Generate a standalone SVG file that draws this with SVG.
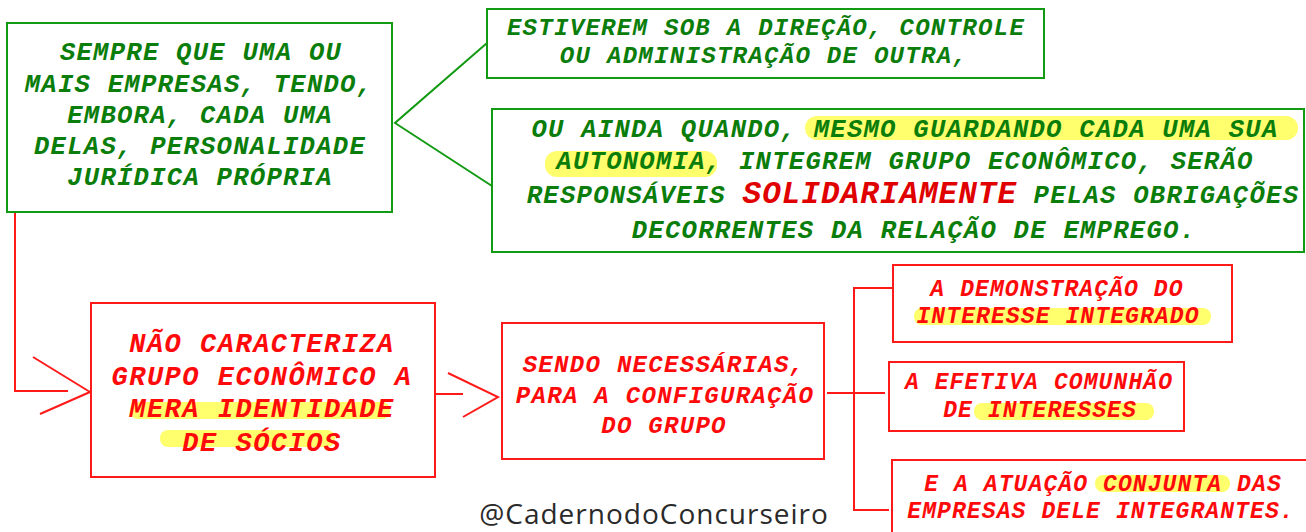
<svg xmlns="http://www.w3.org/2000/svg" width="1306" height="532" viewBox="0 0 1306 532">
<style>
.gbox{fill:#fff;stroke:#139a13;stroke-width:2}
.rbox{fill:#fff;stroke:#ff1a1a;stroke-width:2}
.t{font-family:"Liberation Mono","Courier New",monospace;font-weight:bold;font-style:italic;text-anchor:middle}
.g{fill:#0a7d0a}
.r{fill:#ff0a0a}
.s24{font-size:25.5px;letter-spacing:1.3px}
.s23{font-size:24px;letter-spacing:1.3px}
.s26{font-size:27px;letter-spacing:1.5px}
.s22{font-size:24px;letter-spacing:1.3px}
.s21{font-size:23px;letter-spacing:1.1px}
.big{font-size:31px;letter-spacing:1px;fill:#e00000}
.hl{fill:#ffff3c;opacity:0.75}
.gc{fill:none;stroke:#139a13;stroke-width:2}
.rc{fill:none;stroke:#ff1a1a;stroke-width:2}
.wm{font-family:"Open Sans","Noto Sans",sans-serif;font-size:28px;letter-spacing:1px;fill:#2a2a2a}
</style>
<rect width="1306" height="532" fill="#fff"/>
<g id="connectors">
<polyline class="gc" points="487,43 395,123 492,186"/>
<polyline class="rc" points="15,213 15,391 68,391"/>
<polyline class="rc" points="33,357 90,392 40,414"/>
<line class="rc" x1="435" y1="394" x2="463" y2="394"/>
<polyline class="rc" points="448,373 498,397 463,417"/>
<line class="rc" x1="827" y1="393" x2="885" y2="393"/>
<polyline class="rc" points="893,288 854,288 854,510 889,510"/>
</g>
<g id="n1">
<rect class="gbox" x="7" y="23" width="385" height="189"/>
<text class="t g s24" x="201" y="60">SEMPRE QUE UMA OU</text>
<text class="t g s24" x="199" y="92">MAIS EMPRESAS, TENDO,</text>
<text class="t g s24" x="200" y="123">EMBORA, CADA UMA</text>
<text class="t g s24" x="200" y="154">DELAS, PERSONALIDADE</text>
<text class="t g s24" x="200" y="185">JURÍDICA PRÓPRIA</text>
</g>
<g id="n2">
<rect class="gbox" x="487" y="9" width="557" height="69"/>
<text class="t g s23" x="766" y="35">ESTIVEREM SOB A DIREÇÃO, CONTROLE</text>
<text class="t g s23" x="764" y="63">OU ADMINISTRAÇÃO DE OUTRA,</text>
</g>
<g id="n3">
<rect class="gbox" x="492" y="109" width="812" height="143"/>
<rect class="hl" x="805" y="116" width="493" height="24" rx="12"/>
<rect class="hl" x="545" y="151" width="172" height="26" rx="12"/>
<text class="t g s24" x="905" y="137">OU AINDA QUANDO, MESMO GUARDANDO CADA UMA SUA</text>
<text class="t g s24" x="905" y="169">AUTONOMIA, INTEGREM GRUPO ECONÔMICO, SERÃO</text>
<text class="t g s24" x="913" y="203">RESPONSÁVEIS <tspan class="big">SOLIDARIAMENTE</tspan> PELAS OBRIGAÇÕES</text>
<text class="t g s24" x="914" y="238">DECORRENTES DA RELAÇÃO DE EMPREGO.</text>
</g>
<g id="n4">
<rect class="rbox" x="91" y="303" width="344" height="174"/>
<rect class="hl" x="130" y="402" width="260" height="17" rx="8"/>
<rect class="hl" x="160" y="430" width="175" height="17" rx="8"/>
<text class="t r s26" x="262" y="352">NÃO CARACTERIZA</text>
<text class="t r s26" x="262" y="385">GRUPO ECONÔMICO A</text>
<text class="t r s26" x="262" y="417">MERA IDENTIDADE</text>
<text class="t r s26" x="262" y="451">DE SÓCIOS</text>
</g>
<g id="n5">
<rect class="rbox" x="502" y="323" width="322" height="136"/>
<text class="t r s22" x="664" y="372">SENDO NECESSÁRIAS,</text>
<text class="t r s22" x="665" y="403">PARA A CONFIGURAÇÃO</text>
<text class="t r s22" x="664" y="433">DO GRUPO</text>
</g>
<g id="n6">
<rect class="rbox" x="893" y="265" width="339" height="77"/>
<rect class="hl" x="914" y="308" width="297" height="17" rx="8"/>
<text class="t r s21" x="1057" y="296">A DEMONSTRAÇÃO DO</text>
<text class="t r s21" x="1058" y="323">INTERESSE INTEGRADO</text>
</g>
<g id="n7">
<rect class="rbox" x="889" y="362" width="295" height="69"/>
<rect class="hl" x="974" y="403" width="180" height="17" rx="8"/>
<text class="t r s21" x="1039" y="389">A EFETIVA COMUNHÃO</text>
<text class="t r s21" x="1040" y="417">DE INTERESSES</text>
</g>
<g id="n8">
<rect class="rbox" x="892" y="460" width="420" height="90"/>
<rect class="hl" x="1095" y="475" width="135" height="17" rx="8"/>
<text class="t r s21" x="1103" y="491">E A ATUAÇÃO CONJUNTA DAS</text>
<text class="t r s21" x="1101" y="518">EMPRESAS DELE INTEGRANTES.</text>
</g>
<text class="wm" x="654" y="524" text-anchor="middle">@CadernodoConcurseiro</text>
</svg>
